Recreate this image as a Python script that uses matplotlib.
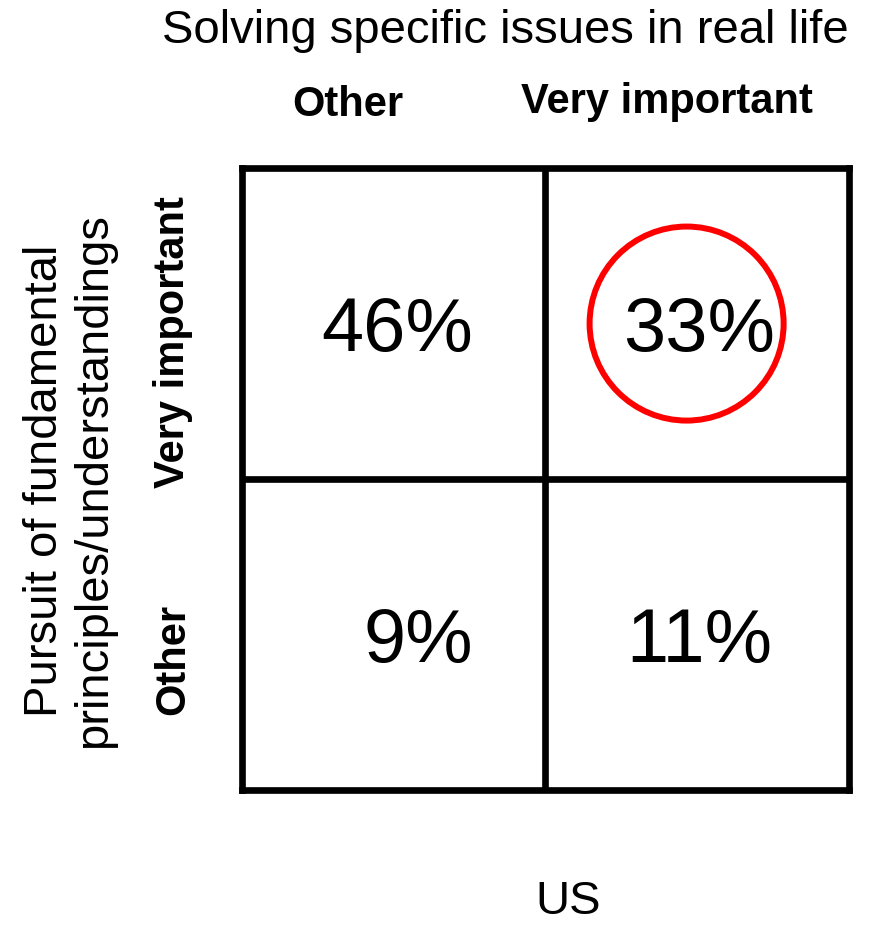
import matplotlib.pyplot as plt
import numpy as np

plt.rcParams['font.family'] = ['Liberation Sans', 'DejaVu Sans']

# share of respondents (%) by answer pair
col_labels = ['Other', 'Very important']      # solving specific issues in real life
row_labels = ['Very important', 'Other']      # pursuit of fundamental principles
shares = np.array([[46, 33],
                   [9, 11]])
highlight = (0, 1)                             # row, col of the circled cell

fig = plt.figure(figsize=(8.72, 9.25), dpi=100)
ax = fig.add_axes([0.2775, 0.1459, 0.6961, 0.6724])

n_rows, n_cols = shares.shape
ax.set_xlim(0, n_cols)
ax.set_ylim(n_rows, 0)
ax.set_xticks([])
ax.set_yticks([])
for s in ax.spines.values():
    s.set_linewidth(4.8)
    s.set_color('black')
for i in range(1, n_cols):
    ax.axvline(i, color='black', lw=4.8)
for j in range(1, n_rows):
    ax.axhline(j, color='black', lw=4.8)

for r in range(n_rows):
    for c in range(n_cols):
        if c == 0:
            ax.text(c + 0.761, r + 0.525, f'{shares[r, c]}%', fontsize=54.5,
                    ha='right', va='center')
        else:
            ax.text(c + 0.506, r + 0.525, f'{shares[r, c]}%', fontsize=54.5,
                    ha='center', va='center')

hr, hc = highlight
ax.scatter([hc + 0.465], [hr + 0.5], s=139.7 ** 2, facecolors='none',
           edgecolors='red', linewidths=4.3, zorder=5)

# category labels around the grid
xt = ax.get_xaxis_transform()
ax.text(0.35, 1.101, col_labels[0], transform=xt, fontsize=30,
        fontweight='bold', ha='center', va='center')
ax.text(1.40, 1.106, col_labels[1], transform=xt, fontsize=30,
        fontweight='bold', ha='center', va='center')
yt = ax.get_yaxis_transform()
ax.text(-0.114, 0.56, row_labels[0], transform=yt, fontsize=30,
        fontweight='bold', rotation=90, ha='center', va='center')
ax.text(-0.114, 1.58, row_labels[1], transform=yt, fontsize=30,
        fontweight='bold', rotation=90, ha='center', va='center')

fig.text(0.579, 0.966, 'Solving specific issues in real life', fontsize=34,
         ha='center', va='center')
fig.text(0.08, 0.48, 'Pursuit of fundamental\nprinciples/understandings',
         fontsize=34, rotation=90, ha='center', va='center',
         multialignment='center', linespacing=1.15)
fig.text(0.651, 0.025, 'US', fontsize=34, ha='center', va='center')

fig.savefig('out.png', dpi=100)
